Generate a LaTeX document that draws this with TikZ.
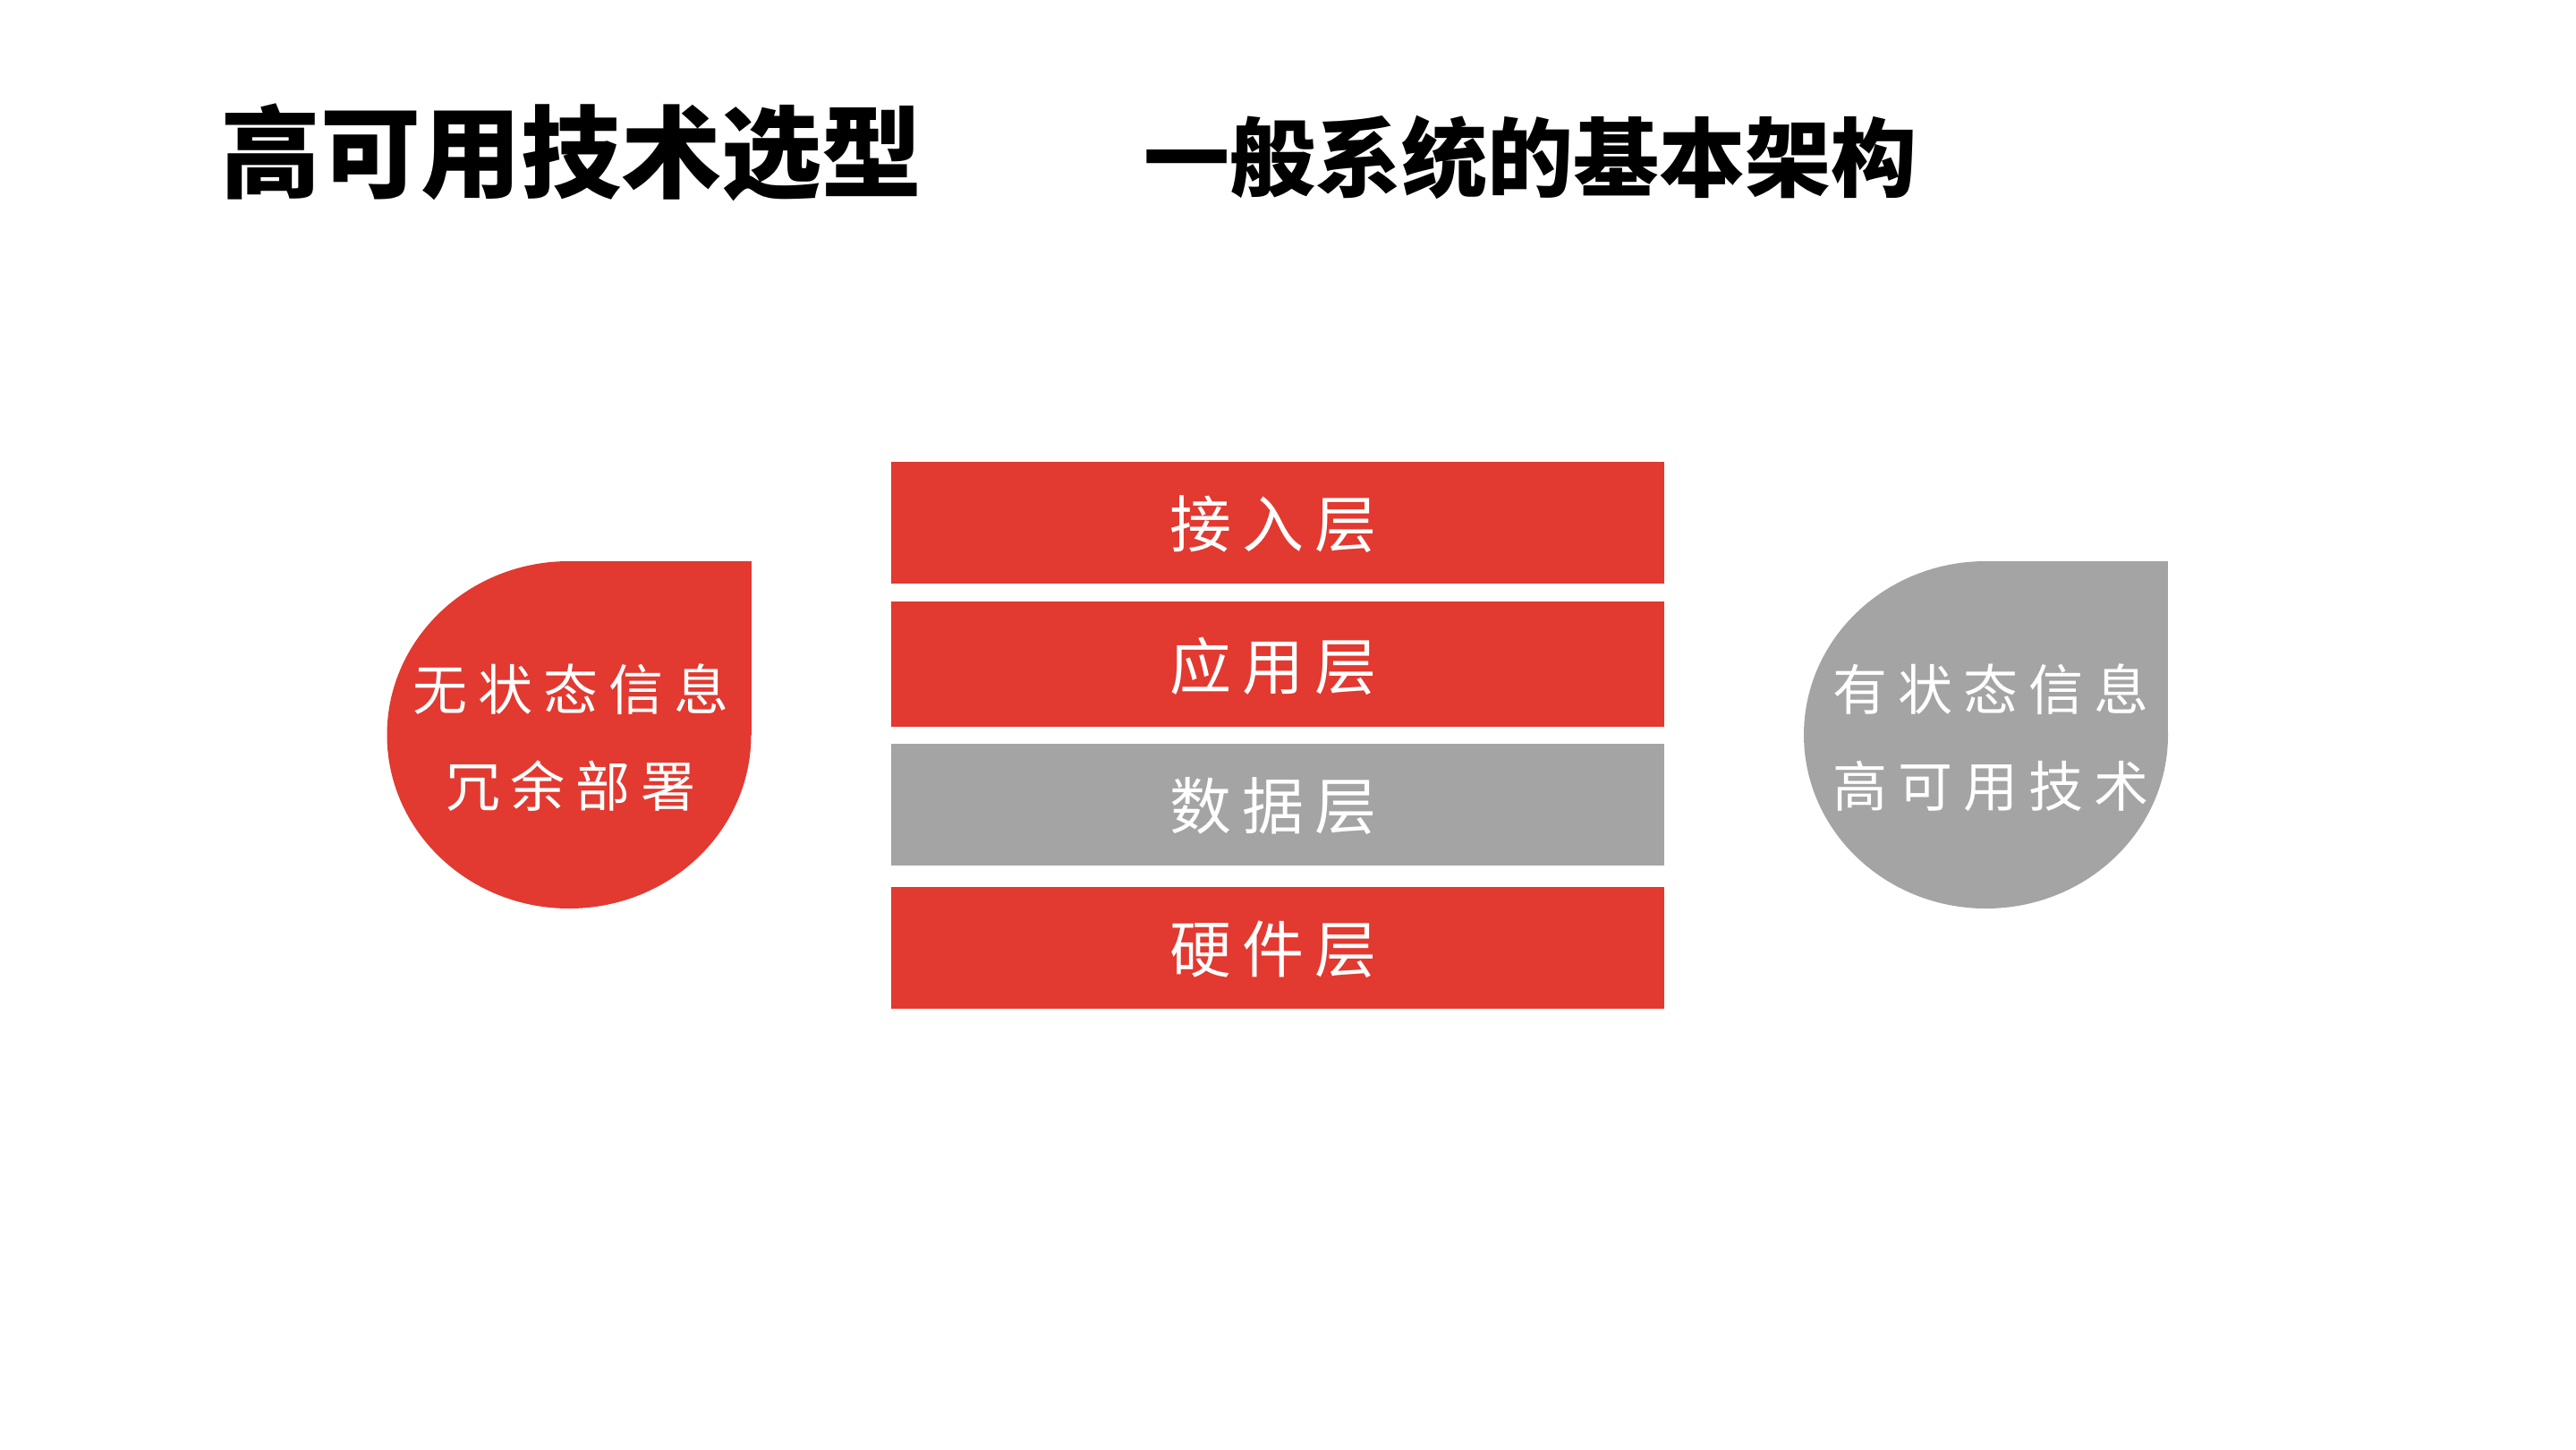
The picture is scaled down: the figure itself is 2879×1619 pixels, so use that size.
\documentclass[tikz,border=0pt]{standalone}
\usepackage{fontspec}
\setmainfont{Noto Sans CJK SC}
\definecolor{rred}{RGB}{226,57,48}
\definecolor{rgray}{RGB}{164,164,164}
\newcommand\kA{\kern12pt}
\tikzset{
  title/.style={inner sep=0pt, text=black, font=\bfseries},
  lbl/.style={inner sep=0pt, text=white},
}
\begin{document}
\begin{tikzpicture}[x=1pt,y=-1pt]
\useasboundingbox (0,0) rectangle (2879,1619);
% titles
\node[title] (t1) at (638,170) {\fontsize{112}{120}\selectfont\bfseries 高可用技术选型};
\node[title] (t2) at (1710,176) {\fontsize{96}{104}\selectfont\bfseries 一般系统的基本架构};
% layers
\fill[rred]  (996,516) rectangle (1860,652);
\fill[rred]  (996,672) rectangle (1860,812);
\fill[rgray] (996,831) rectangle (1860,967);
\fill[rred]  (996,991) rectangle (1860,1127);
\node[lbl] (l1) at (1423,586) {\fontsize{69}{75}\selectfont 接\kA 入\kA 层};
\node[lbl] (l2) at (1423,744) {\fontsize{69}{75}\selectfont 应\kA 用\kA 层};
\node[lbl] (l3) at (1423,901) {\fontsize{69}{75}\selectfont 数\kA 据\kA 层};
\node[lbl] (l4) at (1423,1061) {\fontsize{69}{75}\selectfont 硬\kA 件\kA 层};
% left drop
\fill[rred] (636,821) ellipse [x radius=203.5, y radius=194];
\fill[rred] (636,627) rectangle (839.5,821);
\node[lbl] (a1) at (638,770) {\fontsize{61}{66}\selectfont 无\kA 状\kA 态\kA 信\kA 息};
\node[lbl] (a2) at (638,878) {\fontsize{61}{66}\selectfont 冗\kA 余\kA 部\kA 署};
% right drop
\fill[rgray] (2219.5,821) ellipse [x radius=203.5, y radius=194];
\fill[rgray] (2219.5,627) rectangle (2423,821);
\node[lbl] (b1) at (2225,770) {\fontsize{61}{66}\selectfont 有\kA 状\kA 态\kA 信\kA 息};
\node[lbl] (b2) at (2225,878) {\fontsize{61}{66}\selectfont 高\kA 可\kA 用\kA 技\kA 术};
\end{tikzpicture}
\end{document}
